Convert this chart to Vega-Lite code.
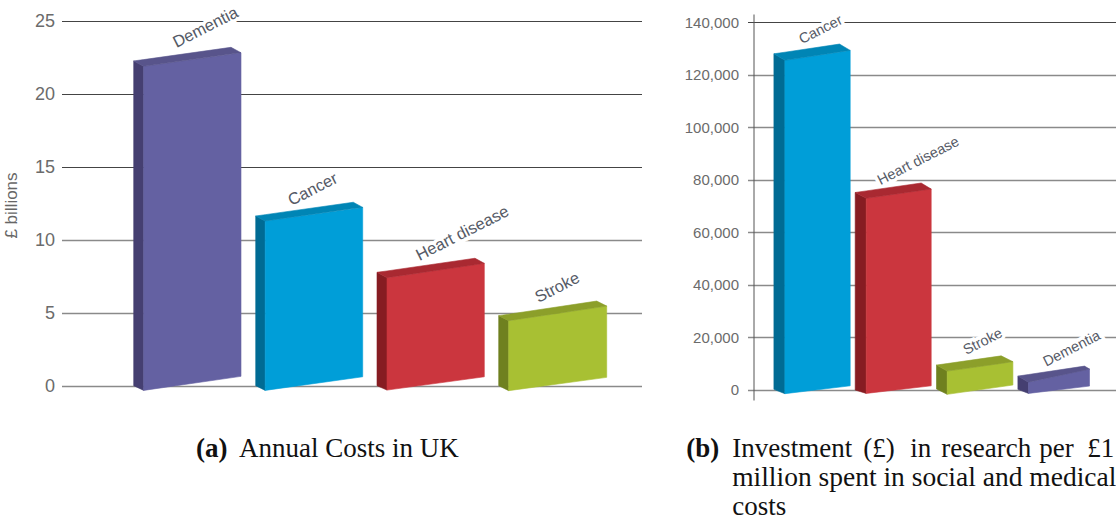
{
  "$schema": "https://vega.github.io/schema/vega-lite/v6.json",
  "padding": {"left": 2.5, "top": 4, "right": 0, "bottom": 0},
  "bounds": "flush",
  "spacing": 112,
  "config": {"view": {"stroke": null}, "font": "Liberation Sans", "text": {"font": "Liberation Sans"}},
  "datasets": {
    "costs": [
      {"part": "Dementia side", "pos": 58.2, "top": 22.27, "base": 0.05},
      {"part": "Dementia side", "pos": 68.2, "top": 21.9, "base": -0.27},
      {"part": "Dementia front", "pos": 68.2, "top": 21.9, "base": -0.27},
      {"part": "Dementia front", "pos": 165.5, "top": 22.83, "base": 0.69},
      {"part": "Dementia cap", "pos": 58.2, "top": 22.27, "base": 22.27},
      {"part": "Dementia cap", "pos": 68.2, "top": 22.36, "base": 21.9},
      {"part": "Dementia cap", "pos": 155.5, "top": 23.2, "base": 22.74},
      {"part": "Dementia cap", "pos": 165.5, "top": 22.83, "base": 22.83},
      {"part": "Cancer side", "pos": 180.2, "top": 11.66, "base": 0.05},
      {"part": "Cancer side", "pos": 189.7, "top": 11.32, "base": -0.27},
      {"part": "Cancer front", "pos": 189.7, "top": 11.32, "base": -0.27},
      {"part": "Cancer front", "pos": 287.2, "top": 12.25, "base": 0.66},
      {"part": "Cancer cap", "pos": 180.2, "top": 11.66, "base": 11.66},
      {"part": "Cancer cap", "pos": 189.7, "top": 11.75, "base": 11.32},
      {"part": "Cancer cap", "pos": 277.8, "top": 12.6, "base": 12.17},
      {"part": "Cancer cap", "pos": 287.2, "top": 12.25, "base": 12.25},
      {"part": "Heart disease side", "pos": 301.5, "top": 7.81, "base": 0.05},
      {"part": "Heart disease side", "pos": 311.5, "top": 7.44, "base": -0.25},
      {"part": "Heart disease front", "pos": 311.5, "top": 7.44, "base": -0.25},
      {"part": "Heart disease front", "pos": 408.8, "top": 8.42, "base": 0.66},
      {"part": "Heart disease cap", "pos": 301.5, "top": 7.81, "base": 7.81},
      {"part": "Heart disease cap", "pos": 311.5, "top": 7.9, "base": 7.44},
      {"part": "Heart disease cap", "pos": 399.5, "top": 8.77, "base": 8.33},
      {"part": "Heart disease cap", "pos": 408.8, "top": 8.42, "base": 8.42},
      {"part": "Stroke side", "pos": 423.2, "top": 4.84, "base": 0.05},
      {"part": "Stroke side", "pos": 433.2, "top": 4.5, "base": -0.29},
      {"part": "Stroke front", "pos": 433.2, "top": 4.5, "base": -0.29},
      {"part": "Stroke front", "pos": 531.2, "top": 5.5, "base": 0.62},
      {"part": "Stroke cap", "pos": 423.2, "top": 4.84, "base": 4.84},
      {"part": "Stroke cap", "pos": 433.2, "top": 4.94, "base": 4.5},
      {"part": "Stroke cap", "pos": 521.2, "top": 5.84, "base": 5.4},
      {"part": "Stroke cap", "pos": 531.2, "top": 5.5, "base": 5.5}
    ],
    "costLabels": [
      {"disease": "Dementia", "pos": 101, "at": 23.15},
      {"disease": "Cancer", "pos": 216, "at": 12.34},
      {"disease": "Heart disease", "pos": 344, "at": 8.58},
      {"disease": "Stroke", "pos": 463, "at": 5.71}
    ],
    "investment": [
      {"part": "Cancer side", "pos": 20.4, "top": 127900, "base": 150},
      {"part": "Cancer side", "pos": 31.4, "top": 125400, "base": -1500},
      {"part": "Cancer front", "pos": 31.4, "top": 125400, "base": -1500},
      {"part": "Cancer front", "pos": 96.7, "top": 129200, "base": 1500},
      {"part": "Cancer cap", "pos": 20.4, "top": 127900, "base": 127900},
      {"part": "Cancer cap", "pos": 31.4, "top": 128500, "base": 125400},
      {"part": "Cancer cap", "pos": 86, "top": 131600, "base": 128600},
      {"part": "Cancer cap", "pos": 96.7, "top": 129200, "base": 129200},
      {"part": "Heart disease side", "pos": 101.7, "top": 75100, "base": -100},
      {"part": "Heart disease side", "pos": 112.7, "top": 72900, "base": -1400},
      {"part": "Heart disease front", "pos": 112.7, "top": 72900, "base": -1400},
      {"part": "Heart disease front", "pos": 177.7, "top": 76400, "base": 1500},
      {"part": "Heart disease cap", "pos": 101.7, "top": 75100, "base": 75100},
      {"part": "Heart disease cap", "pos": 112.7, "top": 75700, "base": 72900},
      {"part": "Heart disease cap", "pos": 167.7, "top": 78700, "base": 75900},
      {"part": "Heart disease cap", "pos": 177.7, "top": 76400, "base": 76400},
      {"part": "Stroke side", "pos": 183, "top": 9400, "base": 300},
      {"part": "Stroke side", "pos": 193.7, "top": 7100, "base": -1750},
      {"part": "Stroke front", "pos": 193.7, "top": 7100, "base": -1750},
      {"part": "Stroke front", "pos": 259.4, "top": 10700, "base": 1800},
      {"part": "Stroke cap", "pos": 183, "top": 9400, "base": 9400},
      {"part": "Stroke cap", "pos": 193.7, "top": 9970, "base": 7100},
      {"part": "Stroke cap", "pos": 247.7, "top": 12900, "base": 10030},
      {"part": "Stroke cap", "pos": 259.4, "top": 10700, "base": 10700},
      {"part": "Dementia side", "pos": 264.4, "top": 5200, "base": 150},
      {"part": "Dementia side", "pos": 275, "top": 2900, "base": -1400},
      {"part": "Dementia front", "pos": 275, "top": 2900, "base": -1400},
      {"part": "Dementia front", "pos": 336, "top": 7900, "base": 1400},
      {"part": "Dementia cap", "pos": 264.4, "top": 5200, "base": 5200},
      {"part": "Dementia cap", "pos": 275, "top": 5800, "base": 2900},
      {"part": "Dementia cap", "pos": 331, "top": 9000, "base": 7450},
      {"part": "Dementia cap", "pos": 336, "top": 7900, "base": 7900}
    ],
    "investmentLabels": [
      {"disease": "Cancer", "pos": 48.4, "at": 131500},
      {"disease": "Heart disease", "pos": 127, "at": 77900},
      {"disease": "Stroke", "pos": 212.7, "at": 13200},
      {"disease": "Dementia", "pos": 292.7, "at": 8750}
    ],
    "captionWords": [
      {"word": "Investment", "pos": -21.3},
      {"word": "(£)", "pos": 109.7},
      {"word": "in", "pos": 156.7},
      {"word": "research", "pos": 187.7},
      {"word": "per", "pos": 285.7},
      {"word": "£1", "pos": 333.7}
    ]
  },
  "hconcat": [
    {
      "width": 566,
      "height": 385,
      "layer": [
        {
          "data": {"name": "costLabels"},
          "mark": {"type": "text", "align": "left", "baseline": "alphabetic", "angle": 333, "fontSize": 16.5, "stroke": "white", "strokeWidth": 7},
          "encoding": {
            "x": {"field": "pos", "type": "quantitative", "axis": null, "scale": {"domain": [0, 566]}},
            "y": {
              "field": "at", "type": "quantitative", "scale": {"domain": [-0.86, 25.48]},
              "axis": {
                "title": "£ billions", "titleFont": "Liberation Sans", "titleFontSize": 17, "titleFontWeight": "normal", "titleColor": "#666666",
                "titleX": -55, "titleY": 191,
                "values": [0, 5, 10, 15, 20, 25], "domain": false, "tickSize": 14, "labelPadding": 7,
                "labelFont": "Liberation Sans", "labelFontSize": 18, "labelColor": "#6b6b6b",
                "grid": true,
                "gridColor": {"condition": {"test": "datum.value >= 15", "value": "#444444"}, "value": "#8a8a8a"},
                "gridWidth": {"condition": {"test": "datum.value >= 15", "value": 1}, "value": 1.5},
                "tickColor": {"condition": {"test": "datum.value >= 15", "value": "#444444"}, "value": "#8a8a8a"},
                "tickWidth": {"condition": {"test": "datum.value >= 15", "value": 1}, "value": 1.5}
              }
            },
            "text": {"field": "disease"}
          }
        },
        {
          "mark": {"type": "rule", "color": "#555555", "strokeWidth": 1},
          "encoding": {
            "x": {"datum": 0, "type": "quantitative", "scale": {"domain": [0, 566]}},
            "y": {"datum": -0.86, "type": "quantitative", "scale": {"domain": [-0.86, 25.48]}},
            "y2": {"datum": 25}
          }
        },
        {
          "data": {"name": "costs"},
          "mark": {"type": "area", "interpolate": "linear", "strokeWidth": 0.6},
          "encoding": {
            "x": {"field": "pos", "type": "quantitative", "scale": {"domain": [0, 566]}},
            "y": {"field": "top", "type": "quantitative", "scale": {"domain": [-0.86, 25.48]}},
            "y2": {"field": "base"},
            "fill": {
              "field": "part", "type": "nominal", "legend": null,
              "scale": {
                "domain": ["Dementia front", "Dementia side", "Dementia cap", "Cancer front", "Cancer side", "Cancer cap", "Heart disease front", "Heart disease side", "Heart disease cap", "Stroke front", "Stroke side", "Stroke cap"],
                "range": ["#6461a2", "#453f71", "#58548b", "#009ed8", "#006b94", "#0085b5", "#cb363e", "#861c22", "#a92931", "#a8c033", "#6f801f", "#8c9f2a"]
              }
            },
            "stroke": {
              "field": "part", "type": "nominal", "legend": null,
              "scale": {
                "domain": ["Dementia front", "Dementia side", "Dementia cap", "Cancer front", "Cancer side", "Cancer cap", "Heart disease front", "Heart disease side", "Heart disease cap", "Stroke front", "Stroke side", "Stroke cap"],
                "range": ["#6461a2", "#453f71", "#58548b", "#009ed8", "#006b94", "#0085b5", "#cb363e", "#861c22", "#a92931", "#a8c033", "#6f801f", "#8c9f2a"]
              }
            }
          }
        },
        {
          "data": {"name": "costLabels"},
          "mark": {"type": "text", "align": "left", "baseline": "alphabetic", "angle": 333, "fontSize": 16.5, "color": "#555a66"},
          "encoding": {
            "x": {"field": "pos", "type": "quantitative", "scale": {"domain": [0, 566]}},
            "y": {"field": "at", "type": "quantitative", "scale": {"domain": [-0.86, 25.48]}},
            "text": {"field": "disease"}
          }
        },
        {
          "data": {"values": [{"caption": "(a)"}]},
          "mark": {"type": "text", "align": "left", "baseline": "alphabetic", "font": "Liberation Serif", "fontWeight": "bold", "fontSize": 27, "color": "#111111"},
          "encoding": {
            "x": {"datum": 120.5, "type": "quantitative", "scale": {"domain": [0, 566]}},
            "y": {"datum": -4.83, "type": "quantitative", "scale": {"domain": [-0.86, 25.48]}},
            "text": {"field": "caption"}
          }
        },
        {
          "data": {"values": [{"caption": "Annual Costs in UK"}]},
          "mark": {"type": "text", "align": "left", "baseline": "alphabetic", "font": "Liberation Serif", "fontSize": 27, "color": "#111111"},
          "encoding": {
            "x": {"datum": 163.5, "type": "quantitative", "scale": {"domain": [0, 566]}},
            "y": {"datum": -4.83, "type": "quantitative", "scale": {"domain": [-0.86, 25.48]}},
            "text": {"field": "caption"}
          }
        }
      ]
    },
    {
      "width": 364,
      "height": 386,
      "layer": [
        {
          "data": {"name": "investmentLabels"},
          "mark": {"type": "text", "align": "left", "baseline": "alphabetic", "angle": 333, "fontSize": 14.5, "stroke": "white", "strokeWidth": 7},
          "encoding": {
            "x": {"field": "pos", "type": "quantitative", "axis": null, "scale": {"domain": [0, 364]}},
            "y": {
              "field": "at", "type": "quantitative", "title": null, "scale": {"domain": [-3900, 143050]},
              "axis": {
                "values": [0, 20000, 40000, 60000, 80000, 100000, 120000, 140000], "format": ",d",
                "domain": true, "domainColor": "#555555", "tickSize": 6, "labelPadding": 9,
                "labelFont": "Liberation Sans", "labelFontSize": 15, "labelColor": "#6b6b6b",
                "grid": true,
                "gridColor": {"condition": {"test": "datum.value >= 140000", "value": "#444444"}, "value": "#8a8a8a"},
                "gridWidth": {"condition": {"test": "datum.value >= 140000", "value": 1}, "value": 1.5},
                "tickColor": {"condition": {"test": "datum.value >= 140000", "value": "#444444"}, "value": "#8a8a8a"},
                "tickWidth": {"condition": {"test": "datum.value >= 140000", "value": 1}, "value": 1.5}
              }
            },
            "text": {"field": "disease"}
          }
        },
        {
          "data": {"name": "investment"},
          "mark": {"type": "area", "interpolate": "linear", "strokeWidth": 0.6},
          "encoding": {
            "x": {"field": "pos", "type": "quantitative", "scale": {"domain": [0, 364]}},
            "y": {"field": "top", "type": "quantitative", "scale": {"domain": [-3900, 143050]}},
            "y2": {"field": "base"},
            "fill": {
              "field": "part", "type": "nominal", "legend": null,
              "scale": {
                "domain": ["Dementia front", "Dementia side", "Dementia cap", "Cancer front", "Cancer side", "Cancer cap", "Heart disease front", "Heart disease side", "Heart disease cap", "Stroke front", "Stroke side", "Stroke cap"],
                "range": ["#6461a2", "#453f71", "#58548b", "#009ed8", "#006b94", "#0085b5", "#cb363e", "#861c22", "#a92931", "#a8c033", "#6f801f", "#8c9f2a"]
              }
            },
            "stroke": {
              "field": "part", "type": "nominal", "legend": null,
              "scale": {
                "domain": ["Dementia front", "Dementia side", "Dementia cap", "Cancer front", "Cancer side", "Cancer cap", "Heart disease front", "Heart disease side", "Heart disease cap", "Stroke front", "Stroke side", "Stroke cap"],
                "range": ["#6461a2", "#453f71", "#58548b", "#009ed8", "#006b94", "#0085b5", "#cb363e", "#861c22", "#a92931", "#a8c033", "#6f801f", "#8c9f2a"]
              }
            }
          }
        },
        {
          "data": {"name": "investmentLabels"},
          "mark": {"type": "text", "align": "left", "baseline": "alphabetic", "angle": 333, "fontSize": 14.5, "color": "#555a66"},
          "encoding": {
            "x": {"field": "pos", "type": "quantitative", "scale": {"domain": [0, 364]}},
            "y": {"field": "at", "type": "quantitative", "scale": {"domain": [-3900, 143050]}},
            "text": {"field": "disease"}
          }
        },
        {
          "data": {"values": [{"caption": "(b)"}]},
          "mark": {"type": "text", "align": "left", "baseline": "alphabetic", "font": "Liberation Serif", "fontWeight": "bold", "fontSize": 27, "color": "#111111"},
          "encoding": {
            "x": {"datum": -67.3, "type": "quantitative", "scale": {"domain": [0, 364]}},
            "y": {"datum": -25600, "type": "quantitative", "scale": {"domain": [-3900, 143050]}},
            "text": {"field": "caption"}
          }
        },
        {
          "data": {"name": "captionWords"},
          "mark": {"type": "text", "align": "left", "baseline": "alphabetic", "font": "Liberation Serif", "fontSize": 27, "color": "#111111"},
          "encoding": {
            "x": {"field": "pos", "type": "quantitative", "scale": {"domain": [0, 364]}},
            "y": {"datum": -25600, "type": "quantitative", "scale": {"domain": [-3900, 143050]}},
            "text": {"field": "word"}
          }
        },
        {
          "data": {"values": [{"caption": "million spent in social and medical"}]},
          "mark": {"type": "text", "align": "left", "baseline": "alphabetic", "font": "Liberation Serif", "fontSize": 27.5, "color": "#111111"},
          "encoding": {
            "x": {"datum": -21.3, "type": "quantitative", "scale": {"domain": [0, 364]}},
            "y": {"datum": -36660, "type": "quantitative", "scale": {"domain": [-3900, 143050]}},
            "text": {"field": "caption"}
          }
        },
        {
          "data": {"values": [{"caption": "costs"}]},
          "mark": {"type": "text", "align": "left", "baseline": "alphabetic", "font": "Liberation Serif", "fontSize": 27, "color": "#111111"},
          "encoding": {
            "x": {"datum": -21.3, "type": "quantitative", "scale": {"domain": [0, 364]}},
            "y": {"datum": -47700, "type": "quantitative", "scale": {"domain": [-3900, 143050]}},
            "text": {"field": "caption"}
          }
        }
      ]
    }
  ]
}
